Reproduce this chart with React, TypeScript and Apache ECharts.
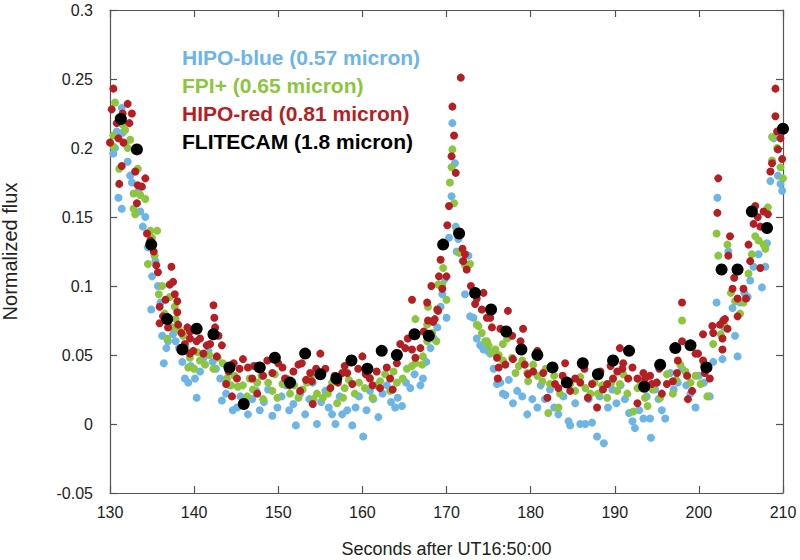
import React, { useEffect, useRef } from "react";
import * as echarts from "echarts";

type P = [number, number];

const seriesNames = [
  "HIPO-blue (0.57 micron)",
  "FPI+ (0.65 micron)",
  "HIPO-red (0.81 micron)",
  "FLITECAM (1.8 micron)",
];
const seriesColors = ["#6db5e6", "#8cc63e", "#b51f24", "#000000"];

const xTicks = [130, 140, 150, 160, 170, 180, 190, 200, 210];
const yTicks = [-0.05, 0, 0.05, 0.1, 0.15, 0.2, 0.25, 0.3];

const hipoBlue: P[] = [
  [130.4, 0.196], [130.6, 0.2], [130.8, 0.212], [131.0, 0.164], [131.4, 0.156], [131.4, 0.229],
  [131.5, 0.211], [131.8, 0.203], [132.1, 0.19], [132.4, 0.18], [132.6, 0.175], [133.0, 0.183],
  [133.3, 0.168], [133.6, 0.154], [133.9, 0.143], [134.2, 0.15], [134.5, 0.128], [134.8, 0.128],
  [134.9, 0.083], [135.0, 0.107], [135.4, 0.118], [135.7, 0.1], [136.0, 0.088], [136.2, 0.064],
  [136.4, 0.044], [136.7, 0.055], [136.9, 0.06], [137.2, 0.07], [137.5, 0.065], [137.8, 0.06],
  [138.2, 0.055], [138.6, 0.045], [138.9, 0.033], [139.3, 0.03], [139.6, 0.042], [140.1, 0.033],
  [140.3, 0.019], [140.7, 0.038], [141.1, 0.048], [141.7, 0.053], [142.2, 0.045], [142.6, 0.04],
  [143.1, 0.033], [143.3, 0.017], [143.8, 0.022], [144.2, 0.028], [144.6, 0.01], [145.1, 0.012],
  [145.5, 0.02], [146.0, 0.015], [146.4, 0.007], [146.9, 0.018], [147.0, 0.042], [147.4, 0.024],
  [147.8, 0.01], [148.3, 0.016], [148.8, 0.025], [149.3, 0.006], [149.9, 0.012], [150.4, 0.02],
  [150.9, 0.028], [151.3, 0.01], [151.8, 0.0145], [152.1, -0.001], [152.6, 0.022], [153.2, 0.007],
  [153.7, 0.018], [154.1, 0.03], [154.6, 0.0], [155.1, 0.016], [155.6, 0.024], [156.0, 0.012],
  [156.4, 0.007], [156.8, 0.0], [157.3, 0.02], [157.6, 0.007], [158.2, 0.01], [158.8, -0.001],
  [159.2, 0.012], [159.6, 0.02], [160.1, -0.009], [160.5, 0.01], [160.9, 0.024], [161.3, 0.018],
  [161.9, 0.005], [162.4, 0.022], [162.9, 0.028], [163.4, 0.016], [163.9, 0.012], [164.2, 0.019],
  [164.7, 0.013], [165.2, 0.03], [165.7, 0.026], [166.2, 0.036], [166.9, 0.028], [167.2, 0.033],
  [167.6, 0.045], [168.1, 0.055], [168.5, 0.062], [168.9, 0.07], [169.3, 0.085], [169.5, 0.094],
  [169.8, 0.105], [170.0, 0.077], [170.3, 0.135], [170.6, 0.165], [170.7, 0.218], [171.0, 0.189],
  [171.1, 0.143], [171.2, 0.125], [171.4, 0.134], [171.9, 0.118], [172.2, 0.094], [172.6, 0.122],
  [172.8, 0.078], [173.2, 0.077], [173.6, 0.062], [174.0, 0.057], [174.4, 0.054], [174.9, 0.053],
  [175.2, 0.051], [175.6, 0.04], [176.0, 0.029], [176.4, 0.03], [176.7, 0.022], [177.0, 0.021],
  [177.4, 0.032], [177.9, 0.015], [178.4, 0.024], [179.0, 0.02], [179.6, 0.007], [180.2, 0.018],
  [180.8, 0.012], [181.2, 0.028], [181.7, 0.018], [182.3, 0.025], [182.8, 0.012], [183.3, 0.007],
  [183.9, 0.02], [184.5, 0.002], [184.7, -0.001], [185.3, 0.015], [185.9, 0.0], [186.5, 0.0],
  [186.9, 0.018], [187.3, 0.001], [187.9, -0.009], [188.2, 0.02], [188.7, -0.014], [189.2, 0.012],
  [189.7, 0.025], [190.2, 0.015], [190.7, 0.028], [191.2, 0.018], [191.7, 0.008], [192.1, 0.002],
  [192.4, -0.003], [192.9, 0.01], [193.4, 0.004], [193.8, 0.02], [194.2, 0.004], [194.3, -0.01],
  [194.8, 0.025], [195.2, 0.018], [195.6, 0.01], [196.0, 0.004], [196.6, 0.037], [197.0, 0.025],
  [197.5, 0.03], [198.0, 0.04], [198.5, 0.028], [199.0, 0.022], [199.6, 0.012], [200.0, 0.035],
  [200.6, 0.03], [201.3, 0.02], [201.7, 0.045], [202.1, 0.088], [202.2, 0.164], [202.8, 0.047],
  [203.0, 0.07], [203.5, 0.125], [204.0, 0.084], [204.3, 0.064], [204.6, 0.049], [204.9, 0.088],
  [205.4, 0.095], [205.8, 0.092], [206.1, 0.104], [206.5, 0.114], [207.1, 0.123], [207.5, 0.099],
  [207.9, 0.114], [208.1, 0.131], [208.5, 0.176], [208.9, 0.207], [209.4, 0.18], [209.7, 0.174],
  [209.9, 0.169],
];

const fpiPlus: P[] = [
  [130.4, 0.209], [130.4, 0.201], [130.6, 0.233], [131.0, 0.222], [131.1, 0.185], [131.5, 0.217],
  [131.8, 0.213], [132.1, 0.2], [132.4, 0.206], [132.8, 0.167], [132.8, 0.156], [133.0, 0.152],
  [133.3, 0.185], [133.6, 0.166], [134.2, 0.163], [134.5, 0.116], [134.8, 0.14], [135.0, 0.135],
  [135.3, 0.122], [135.6, 0.14], [135.8, 0.094], [136.2, 0.1], [136.5, 0.08], [136.8, 0.062],
  [137.1, 0.092], [137.4, 0.07], [137.7, 0.085], [137.8, 0.076], [138.2, 0.068], [138.7, 0.064],
  [139.0, 0.055], [139.3, 0.041], [139.5, 0.048], [140.0, 0.04], [140.4, 0.052], [140.7, 0.046],
  [141.3, 0.043], [141.8, 0.05], [142.3, 0.04], [142.8, 0.048], [143.4, 0.044], [143.9, 0.033],
  [144.4, 0.028], [144.8, 0.035], [145.2, 0.027], [145.8, 0.028], [146.3, 0.02], [146.6, 0.033],
  [147.0, 0.025], [147.5, 0.03], [148.0, 0.035], [148.2, 0.018], [148.8, 0.03], [149.3, 0.024],
  [149.6, 0.036], [149.9, 0.019], [150.5, 0.029], [151.0, 0.033], [151.4, 0.022], [151.9, 0.028],
  [152.4, 0.019], [152.9, 0.025], [153.4, 0.03], [153.9, 0.035], [154.2, 0.018], [154.6, 0.022],
  [155.3, 0.019], [155.9, 0.022], [156.4, 0.03], [157.0, 0.015], [157.7, 0.019], [157.9, 0.026],
  [158.4, 0.032], [159.1, 0.022], [159.6, 0.03], [160.3, 0.026], [160.8, 0.034], [161.2, 0.019],
  [161.7, 0.028], [162.1, 0.031], [162.7, 0.036], [163.3, 0.024], [163.7, 0.038], [164.1, 0.03],
  [164.8, 0.033], [165.3, 0.04], [165.9, 0.042], [166.3, 0.044], [166.3, 0.076], [167.1, 0.043],
  [167.2, 0.049], [167.7, 0.06], [167.7, 0.072], [167.8, 0.085], [168.3, 0.066], [168.8, 0.06],
  [169.0, 0.101], [169.5, 0.101], [169.6, 0.113], [170.0, 0.09], [170.4, 0.175], [170.6, 0.186],
  [170.7, 0.199], [170.9, 0.16], [171.2, 0.14], [171.5, 0.124], [172.2, 0.115], [172.6, 0.115],
  [172.8, 0.116], [173.2, 0.095], [173.6, 0.072], [173.8, 0.071], [174.2, 0.066], [174.6, 0.06],
  [174.8, 0.06], [175.0, 0.057], [175.4, 0.052], [175.8, 0.054], [176.2, 0.05], [176.7, 0.058],
  [176.7, 0.046], [177.2, 0.062], [177.8, 0.048], [178.2, 0.037], [178.6, 0.042], [179.0, 0.046],
  [179.6, 0.037], [179.7, 0.031], [180.3, 0.043], [180.8, 0.035], [181.4, 0.031], [181.8, 0.04],
  [182.1, 0.008], [182.3, 0.029], [182.8, 0.035], [183.3, 0.012], [183.5, 0.022], [184.1, 0.032],
  [184.7, 0.029], [185.3, 0.024], [185.9, 0.034], [186.5, 0.026], [187.1, 0.022], [187.6, 0.03],
  [188.0, 0.022], [188.5, 0.028], [189.1, 0.019], [189.6, 0.03], [190.3, 0.024], [190.6, 0.029],
  [191.0, 0.036], [191.5, 0.022], [192.2, 0.009], [192.7, 0.026], [193.1, 0.03], [193.6, 0.019],
  [193.9, 0.013], [194.5, 0.025], [195.0, 0.03], [195.4, 0.019], [196.2, 0.036], [196.9, 0.022],
  [197.3, 0.032], [197.8, 0.043], [198.0, 0.075], [198.4, 0.038], [199.0, 0.03], [199.6, 0.035],
  [200.2, 0.029], [200.6, 0.042], [201.0, 0.02], [201.7, 0.058], [202.1, 0.138], [202.3, 0.122],
  [202.6, 0.065], [203.0, 0.072], [203.4, 0.13], [203.8, 0.095], [204.3, 0.089], [204.9, 0.08],
  [205.3, 0.088], [205.9, 0.109], [206.3, 0.123], [206.7, 0.136], [207.1, 0.133], [207.7, 0.13],
  [207.9, 0.127], [208.2, 0.157], [208.7, 0.191], [208.7, 0.208], [209.3, 0.2], [209.7, 0.186],
  [210.0, 0.178],
];

const hipoRed: P[] = [
  [130.0, 0.204], [130.2, 0.228], [130.4, 0.243], [130.8, 0.218], [131.0, 0.207], [131.1, 0.174],
  [131.4, 0.187], [131.5, 0.225], [131.6, 0.204], [132.1, 0.232], [132.3, 0.218], [132.6, 0.225],
  [133.0, 0.183], [133.2, 0.16], [133.3, 0.173], [133.8, 0.172], [134.2, 0.178], [134.4, 0.138],
  [134.8, 0.133], [135.2, 0.125], [135.5, 0.115], [135.7, 0.11], [135.9, 0.085], [135.9, 0.073],
  [136.3, 0.078], [136.6, 0.09], [136.9, 0.07], [137.1, 0.101], [137.3, 0.114], [137.5, 0.103],
  [137.7, 0.094], [138.0, 0.089], [138.0, 0.081], [138.1, 0.072], [138.5, 0.066], [138.9, 0.058],
  [139.2, 0.07], [139.5, 0.067], [139.5, 0.062], [139.5, 0.051], [139.9, 0.053], [140.3, 0.06],
  [140.7, 0.062], [141.1, 0.051], [141.5, 0.057], [141.9, 0.058], [142.3, 0.086], [142.4, 0.077],
  [142.5, 0.07], [142.7, 0.049], [142.9, 0.064], [143.3, 0.057], [143.8, 0.029], [144.1, 0.038],
  [144.5, 0.02], [144.7, 0.044], [145.1, 0.033], [145.4, 0.04], [145.8, 0.047], [146.4, 0.041],
  [146.9, 0.033], [147.2, 0.042], [147.5, 0.022], [148.2, 0.035], [148.7, 0.046], [149.3, 0.037],
  [150.0, 0.044], [150.5, 0.041], [150.8, 0.033], [151.3, 0.028], [151.8, 0.038], [152.4, 0.043],
  [152.6, 0.024], [152.8, 0.044], [153.3, 0.032], [153.8, 0.037], [154.0, 0.031], [154.1, 0.0145],
  [154.5, 0.04], [155.0, 0.051], [155.6, 0.04], [156.2, 0.026], [156.7, 0.035], [157.1, 0.03],
  [157.6, 0.037], [157.9, 0.042], [158.2, 0.037], [158.8, 0.029], [159.5, 0.04], [160.0, 0.049],
  [160.4, 0.036], [160.9, 0.033], [161.2, 0.028], [161.7, 0.038], [162.1, 0.026], [162.9, 0.041],
  [163.3, 0.033], [163.6, 0.025], [164.1, 0.044], [164.5, 0.058], [165.1, 0.055], [165.4, 0.062],
  [165.9, 0.054], [165.9, 0.09], [166.3, 0.048], [166.9, 0.055], [167.3, 0.067], [167.7, 0.088],
  [167.8, 0.075], [168.2, 0.1], [168.4, 0.074], [168.6, 0.076], [168.9, 0.083], [169.0, 0.082],
  [169.1, 0.107], [169.3, 0.119], [169.5, 0.098], [170.0, 0.107], [170.1, 0.144], [170.3, 0.158],
  [170.6, 0.194], [170.7, 0.23], [170.9, 0.209], [171.1, 0.182], [171.7, 0.251], [171.9, 0.127],
  [172.0, 0.118], [172.2, 0.123], [172.4, 0.112], [172.9, 0.1], [173.4, 0.087], [173.6, 0.091],
  [174.2, 0.083], [174.4, 0.095], [174.8, 0.077], [175.2, 0.077], [175.4, 0.07], [176.0, 0.048],
  [176.1, 0.033], [176.2, 0.041], [176.4, 0.069], [177.0, 0.043], [177.3, 0.082], [177.8, 0.064],
  [177.9, 0.047], [178.8, 0.06], [179.1, 0.069], [179.3, 0.043], [179.7, 0.036], [180.3, 0.038],
  [180.8, 0.053], [181.5, 0.037], [182.0, 0.019], [182.5, 0.04], [182.9, 0.029], [183.3, 0.026],
  [183.8, 0.035], [184.1, 0.044], [184.7, 0.024], [185.3, 0.033], [185.9, 0.03], [186.4, 0.04],
  [186.8, 0.019], [187.3, 0.029], [187.9, 0.012], [188.3, 0.038], [188.6, 0.025], [189.1, 0.029],
  [189.5, 0.042], [189.8, 0.033], [190.3, 0.038], [190.6, 0.055], [190.9, 0.04], [191.0, 0.044],
  [191.6, 0.033], [192.1, 0.041], [192.7, 0.033], [192.7, 0.015], [193.4, 0.037], [193.6, 0.033],
  [194.2, 0.035], [194.4, 0.029], [195.0, 0.03], [195.3, 0.04], [195.6, 0.022], [196.2, 0.029],
  [196.9, 0.031], [197.4, 0.037], [197.5, 0.046], [198.0, 0.06], [198.0, 0.088], [198.6, 0.035],
  [198.7, 0.018], [199.2, 0.024], [199.6, 0.051], [199.9, 0.051], [200.5, 0.046], [200.5, 0.065],
  [200.7, 0.037], [201.3, 0.033], [201.6, 0.071], [201.7, 0.066], [202.2, 0.153], [202.3, 0.178],
  [202.5, 0.072], [202.8, 0.062], [202.8, 0.054], [202.9, 0.075], [203.1, 0.076], [203.4, 0.069],
  [203.5, 0.122], [203.7, 0.136], [204.0, 0.098], [204.2, 0.106], [204.6, 0.091], [204.6, 0.078],
  [205.3, 0.098], [205.6, 0.091], [205.9, 0.13], [206.1, 0.118], [206.5, 0.145], [206.7, 0.158],
  [207.0, 0.15], [207.3, 0.143], [207.3, 0.113], [207.7, 0.154], [208.2, 0.152], [208.5, 0.183],
  [208.7, 0.189], [209.1, 0.243], [209.1, 0.223], [209.3, 0.212], [209.4, 0.199], [209.7, 0.207],
  [209.9, 0.192],
];

const flitecam: P[] = [
  [131.3, 0.221], [133.2, 0.199], [134.9, 0.13], [136.8, 0.076], [138.6, 0.054], [140.3, 0.069],
  [142.3, 0.065], [144.2, 0.041], [145.9, 0.0145], [147.8, 0.041], [149.6, 0.048], [151.4, 0.03],
  [153.2, 0.051], [155.0, 0.036], [156.9, 0.033], [158.7, 0.046], [160.6, 0.04], [162.3, 0.053],
  [164.1, 0.05], [166.2, 0.065], [167.9, 0.064], [169.6, 0.13], [171.5, 0.138], [173.4, 0.095],
  [175.3, 0.083], [177.1, 0.067], [178.9, 0.054], [180.8, 0.05], [182.6, 0.041], [184.3, 0.03],
  [186.2, 0.044], [188.0, 0.036], [189.8, 0.046], [191.7, 0.053], [193.5, 0.027], [195.4, 0.043],
  [197.2, 0.055], [199.0, 0.057], [200.9, 0.041], [202.7, 0.112], [204.6, 0.112], [206.3, 0.154],
  [208.1, 0.142], [210.0, 0.214],
];

const seriesData = [hipoBlue, fpiPlus, hipoRed, flitecam];
const symbolSizes = [8, 8, 8, 12];

const FONT = "'Liberation Sans', Arial, Helvetica, sans-serif";
const AXIS_COLOR = "#555555";
const TEXT_COLOR = "#222222";

function buildOption() {
  const xMin = xTicks[0];
  const xMax = xTicks[xTicks.length - 1];
  const xInt = xTicks[1] - xTicks[0];
  const yMin = yTicks[0];
  const yMax = yTicks[yTicks.length - 1];
  const yInt = 0.05;

  const commonLine = { show: true, onZero: false, lineStyle: { color: AXIS_COLOR, width: 1.2 } };
  const commonTick = { show: true, inside: true, length: 7, lineStyle: { color: AXIS_COLOR, width: 1.2 } };

  return {
    animation: false,
    backgroundColor: "#ffffff",
    textStyle: { fontFamily: FONT },
    grid: { left: 110, right: 17, top: 10, bottom: 67, containLabel: false, outerBoundsMode: "none" },
    legend: {
      show: true,
      orient: "vertical",
      left: 177,
      top: 47,
      icon: "none",
      itemWidth: 0,
      itemHeight: 21,
      itemGap: 7,
      padding: 0,
      selectedMode: false,
      textStyle: { fontFamily: FONT, fontSize: 21, fontWeight: "bold", lineHeight: 21 },
      data: seriesNames.map((n, i) => ({
        name: n,
        textStyle: { color: seriesColors[i], fontWeight: "bold", fontSize: 21, lineHeight: 21, fontFamily: FONT },
      })),
    },
    xAxis: [
      {
        type: "value",
        min: xMin,
        max: xMax,
        interval: xInt,
        position: "bottom",
        axisLine: commonLine,
        axisTick: commonTick,
        splitLine: { show: false },
        axisLabel: { color: TEXT_COLOR, fontSize: 16, margin: 11, fontFamily: FONT },
        name: "Seconds after UT16:50:00",
        nameLocation: "middle",
        nameGap: 47,
        nameTextStyle: { color: TEXT_COLOR, fontSize: 18, fontFamily: FONT },
      },
      {
        type: "value",
        min: xMin,
        max: xMax,
        interval: xInt,
        position: "top",
        axisLine: commonLine,
        axisTick: commonTick,
        splitLine: { show: false },
        axisLabel: { show: false },
      },
    ],
    yAxis: [
      {
        type: "value",
        min: yMin,
        max: yMax,
        interval: yInt,
        position: "left",
        axisLine: commonLine,
        axisTick: commonTick,
        splitLine: { show: false },
        axisLabel: {
          color: TEXT_COLOR,
          fontSize: 16,
          margin: 17,
          fontFamily: FONT,
          formatter: (v: number) => String(Math.round(v * 100) / 100),
        },
        name: "Normalized flux",
        nameLocation: "middle",
        nameGap: 90,
        nameTextStyle: { color: TEXT_COLOR, fontSize: 20, fontFamily: FONT },
      },
      {
        type: "value",
        min: yMin,
        max: yMax,
        interval: yInt,
        position: "right",
        axisLine: commonLine,
        axisTick: commonTick,
        splitLine: { show: false },
        axisLabel: { show: false },
      },
    ],
    series: seriesNames.map((n, i) => ({
      name: n,
      type: "scatter",
      xAxisIndex: 0,
      yAxisIndex: 0,
      data: seriesData[i],
      symbol: "circle",
      symbolSize: symbolSizes[i],
      itemStyle: { color: seriesColors[i], opacity: 1 },
      z: 2 + i,
      silent: true,
    })),
  };
}

export default function App() {
  const ref = useRef<HTMLDivElement | null>(null);
  useEffect(() => {
    if (!ref.current) return;
    const chart = echarts.init(ref.current, undefined, { renderer: "svg" });
    chart.setOption(buildOption() as any);
    return () => {
      chart.dispose();
    };
  }, []);
  return <div ref={ref} style={{ width: 800, height: 560, position: "absolute", left: 0, top: 0 }} />;
}
